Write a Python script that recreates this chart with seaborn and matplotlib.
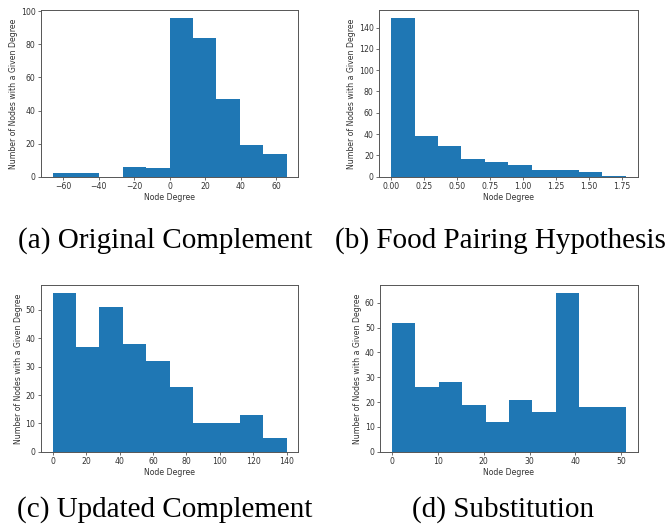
import seaborn as sns
import numpy as np
import pandas as pd
import matplotlib.pyplot as plt

# bin ranges and counts (10 bins each)
range_a = (-66, 66)
counts_a = [2, 2, 0, 6, 5, 96, 84, 47, 19, 14]
range_b = (0, 1.78)
counts_b = [149, 38, 29, 17, 14, 11, 6, 6, 4, 1]
range_c = (0, 140)
counts_c = [56, 37, 51, 38, 32, 23, 10, 10, 13, 5]
range_d = (0, 51)
counts_d = [52, 26, 28, 19, 12, 21, 16, 64, 18, 18]

xticks_a = [-60, -40, -20, 0, 20, 40, 60]
xticks_b = [0.00, 0.25, 0.50, 0.75, 1.00, 1.25, 1.50, 1.75]
xticklabels_b = ["0.00", "0.25", "0.50", "0.75", "1.00", "1.25", "1.50", "1.75"]
xticks_c = [0, 20, 40, 60, 80, 100, 120, 140]
xticks_d = [0, 10, 20, 30, 40, 50]
yticks_a = [0, 20, 40, 60, 80, 100]
yticks_b = [0, 20, 40, 60, 80, 100, 120, 140]
yticks_c = [0, 10, 20, 30, 40, 50]
yticks_d = [0, 10, 20, 30, 40, 50, 60]

captions = ["(a) Original Complement", "(b) Food Pairing Hypothesis",
            "(c) Updated Complement", "(d) Substitution"]

sns.set_style("ticks", {"axes.edgecolor": "#555555"})
plt.rcParams["font.family"] = ["DejaVu Sans"]

fig = plt.figure(figsize=(6.72, 5.25), dpi=100)

rects = [
    [0.061, 0.6634, 0.3829, 0.3175],
    [0.5644, 0.6634, 0.3845, 0.3175],
    [0.061, 0.1396, 0.3829, 0.3175],
    [0.5659, 0.1396, 0.3830, 0.3175],
]
panels = [
    (range_a, counts_a, xticks_a, None, yticks_a),
    (range_b, counts_b, xticks_b, xticklabels_b, yticks_b),
    (range_c, counts_c, xticks_c, None, yticks_c),
    (range_d, counts_d, xticks_d, None, yticks_d),
]

for rect, (rng, counts, xt, xtl, yt) in zip(rects, panels):
    ax = fig.add_axes(rect)
    edges = np.linspace(rng[0], rng[1], len(counts) + 1)
    df = pd.DataFrame({"degree": (edges[:-1] + edges[1:]) / 2, "n": counts})
    sns.histplot(data=df, x="degree", weights="n", bins=len(counts),
                 binrange=rng, ax=ax, color="#1f77b4", alpha=1, linewidth=0)
    ax.set_xticks(xt)
    if xtl is not None:
        ax.set_xticklabels(xtl)
    ax.set_yticks(yt)
    ax.set_xlabel("Node Degree", fontsize=5.6, labelpad=1.5, color="#333333")
    ax.set_ylabel("Number of Nodes with a Given Degree", fontsize=5.6,
                  labelpad=2, color="#333333")
    ax.tick_params(labelsize=5.6, length=2.5, width=0.6, pad=1.5,
                   colors="#555555", labelcolor="#333333")
    for s in ax.spines.values():
        s.set_linewidth(0.7)

caption_pos = [(165, 241), (500, 241), (164.5, 510), (503.5, 510)]
for txt, (px, py) in zip(captions, caption_pos):
    fig.text(px / 672, 1 - py / 525, txt, ha="center", va="center",
             fontsize=21, family="Liberation Serif", color="black")

plt.savefig("out.png", dpi=100)
